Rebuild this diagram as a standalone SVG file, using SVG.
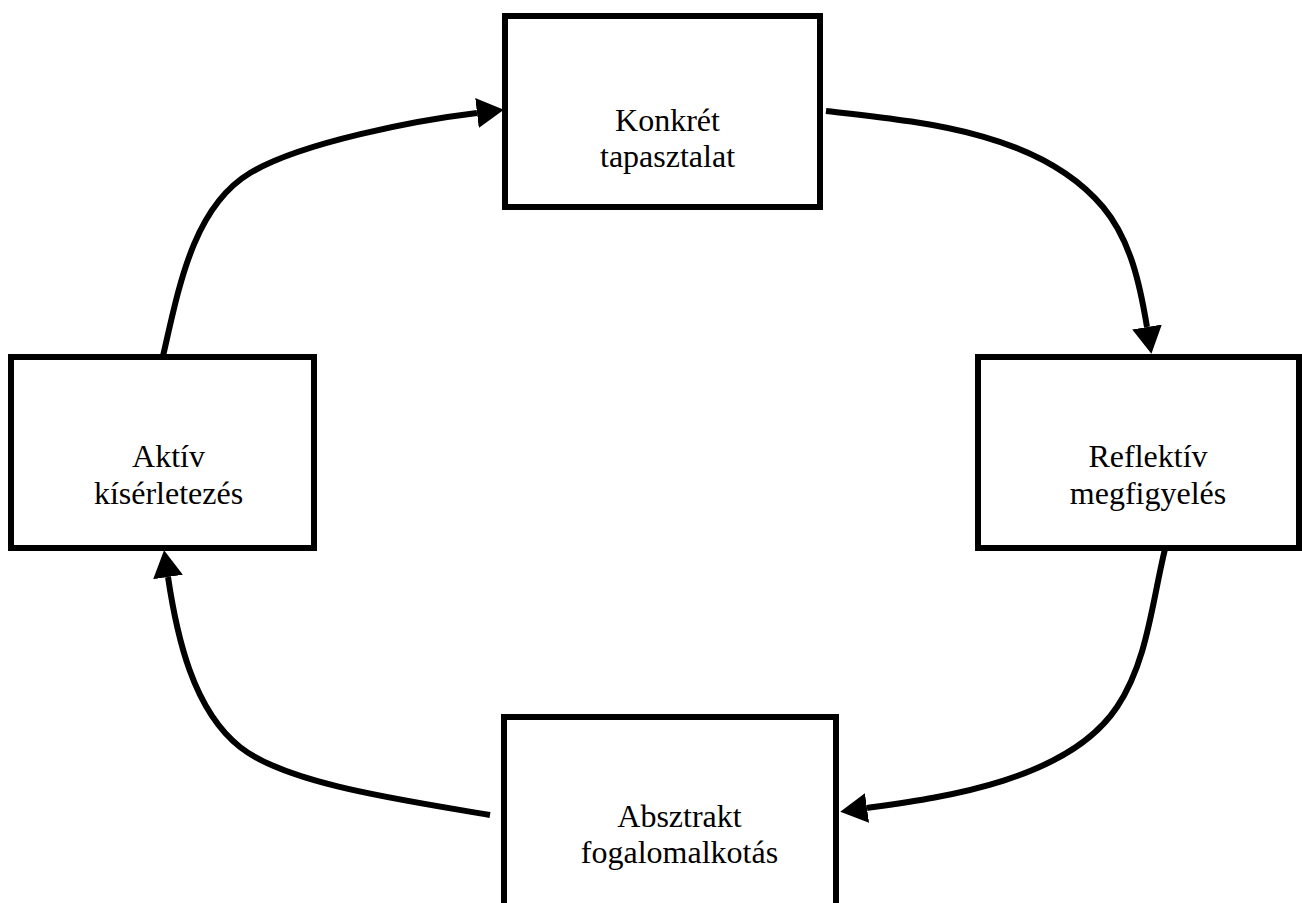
<svg xmlns="http://www.w3.org/2000/svg" width="1302" height="903" viewBox="0 0 1302 903">
  <style>
    .box { fill: #ffffff; stroke: #000000; stroke-width: 6; }
    .lbl { font-family: "Liberation Serif", "Times New Roman", serif; font-size: 32px; fill: #000000; text-anchor: middle; }
    .edge { fill: none; stroke: #000000; stroke-width: 6; marker-end: url(#arrow); }
  </style>
  <defs>
    <marker id="arrow" markerUnits="userSpaceOnUse" viewBox="0 0 27 30" refX="0" refY="15" markerWidth="27" markerHeight="30" orient="auto">
      <path d="M0,0 L27,15 L0,30 Z" fill="#000000"/>
    </marker>
  </defs>
  <rect width="1302" height="903" fill="#ffffff"/>
  <g id="connectors">
    <path class="edge" d="M826,111 C923,122 1040,132 1103,207 C1130.6,240 1140,284.6 1147,327"/>
    <path class="edge" d="M1165,549 C1152,602.4 1147.5,661.2 1117,707 C1067,782 936.3,798.2 867,808"/>
    <path class="edge" d="M490,815 C405.2,800.5 287,784.3 240,747 C193,709.7 176.8,636.3 168,577"/>
    <path class="edge" d="M163,356 C178.6,289 192.6,207.4 250,173 C301.4,142.2 417.4,120.1 477,113"/>
  </g>
  <g id="node-konkret">
    <rect class="box" x="505" y="16" width="315" height="191"/>
    <text class="lbl" x="667.5" y="131">Konkrét</text>
    <text class="lbl" x="667.5" y="167">tapasztalat</text>
  </g>
  <g id="node-reflektiv">
    <rect class="box" x="978" y="357" width="321" height="191"/>
    <text class="lbl" x="1148" y="467">Reflektív</text>
    <text class="lbl" x="1148" y="504">megfigyelés</text>
  </g>
  <g id="node-absztrakt">
    <rect class="box" x="504" y="717" width="332" height="191"/>
    <text class="lbl" x="679.5" y="827">Absztrakt</text>
    <text class="lbl" x="679.5" y="863">fogalomalkotás</text>
  </g>
  <g id="node-aktiv">
    <rect class="box" x="11" y="357" width="303" height="191"/>
    <text class="lbl" x="168.5" y="467">Aktív</text>
    <text class="lbl" x="168.5" y="504">kísérletezés</text>
  </g>
</svg>
